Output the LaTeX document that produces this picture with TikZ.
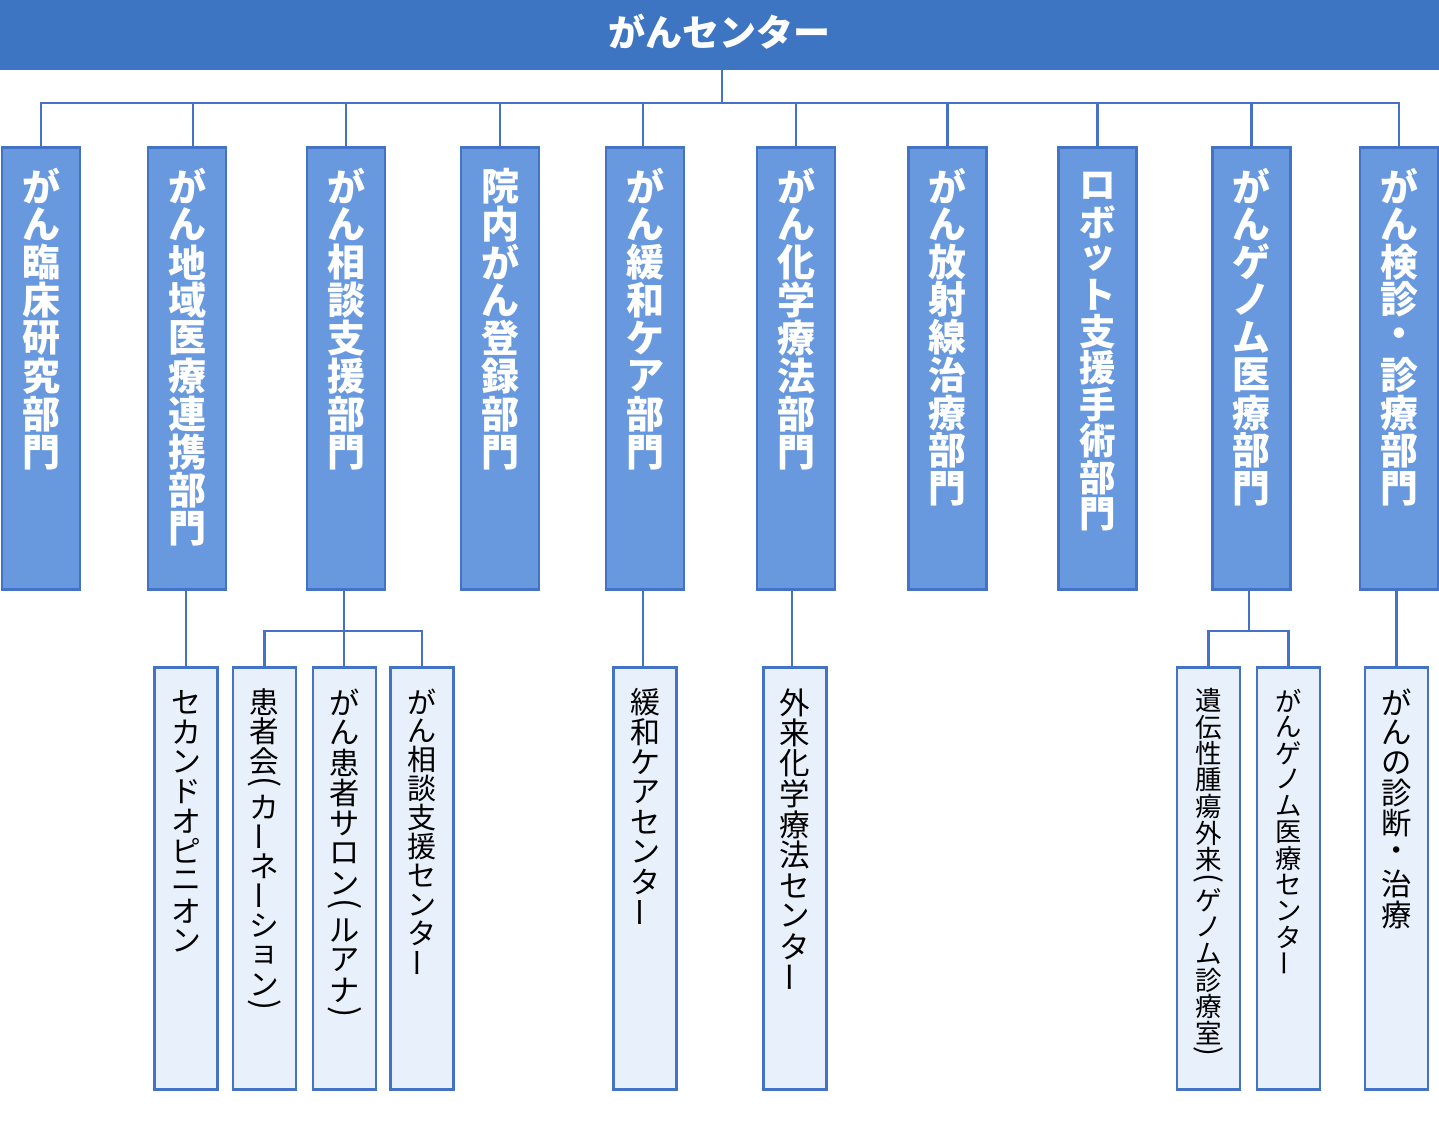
\documentclass[tikz,border=0pt]{standalone}
\usepackage{fontspec}
\usepackage{graphicx}
\setmainfont{Noto Sans CJK JP}
\definecolor{barblue}{HTML}{3E75C2}
\definecolor{deptfill}{HTML}{6899DE}
\definecolor{edgeblue}{HTML}{4472C4}
\definecolor{subfill}{HTML}{E8F0FB}

\newlength\vp
\newlength\vw
\def\vtEnd{\relax vtEnd}
\newcommand\vcell[2]{\hbox to \vw{\hss\vbox to #1\vp{\vss\hbox{#2}\vss}\hss}}
\def\vtOne#1{%
  \ifx ー#1\vcell{1}{\rotatebox[origin=c]{90}{ー}}%
  \else\ifx （#1\vcell{0.55}{\rotatebox[origin=c]{-90}{\fontsize{1.1\vp}{1.1\vp}\selectfont(}}%
  \else\ifx ）#1\vcell{0.55}{\rotatebox[origin=c]{-90}{\fontsize{1.1\vp}{1.1\vp}\selectfont)}}%
  \else\vcell{1}{#1}\fi\fi\fi}
\def\vtA#1{\ifx#1\vtEnd\else\vtOne#1\expandafter\vtA\fi}
\newcommand\vt[2]{\vbox to #1{\offinterlineskip\setlength\vw{1.3em}\vtA#2\vtEnd\vfil}}

\tikzset{
  dept/.style={draw=edgeblue, line width=2.5pt, fill=deptfill, minimum width=78pt,
    minimum height=442pt, inner xsep=0pt, inner ysep=20pt, anchor=north, text=white,
    font=\fontsize{#1}{#1}\selectfont\bfseries\setlength\vp{#1pt}},
  dept/.default=38,
  subbox/.style={draw=edgeblue, line width=2.5pt, fill=subfill, minimum width=63pt,
    minimum height=422pt, inner xsep=0pt, inner ysep=20pt, anchor=north, text=black,
    font=\fontsize{#1}{#1}\selectfont\setlength\vp{#1pt}},
  subbox/.default=30,
  conn/.style={draw=edgeblue, line width=2.5pt},
}

\begin{document}
\begin{tikzpicture}[x=1pt,y=-1pt]
\useasboundingbox (0,0) rectangle (1439,1127);

% top bar
\node[fill=barblue, minimum width=1439pt, minimum height=70pt, inner sep=0pt, anchor=north west] (ctr) at (0,0) {};
\node[text=white, font=\fontsize{37}{37}\selectfont\bfseries] (title) at (719.5,32) {がんセンター};

% departments
\node[dept] (d1) at (41,146) {\vt{402pt}{がん臨床研究部門}};
\node[dept] (d2) at (187,146) {\vt{402pt}{がん地域医療連携部門}};
\node[dept] (d3) at (346,146) {\vt{402pt}{がん相談支援部門}};
\node[dept] (d4) at (500,146) {\vt{402pt}{院内がん登録部門}};
\node[dept] (d5) at (645,146) {\vt{402pt}{がん緩和ケア部門}};
\node[dept] (d6) at (796,146) {\vt{402pt}{がん化学療法部門}};
\node[dept=37.8] (d7) at (947.5,146) {\vt{402pt}{がん放射線治療部門}};
\node[dept=36.5] (d8) at (1097.5,146) {\vt{402pt}{ロボット支援手術部門}};
\node[dept=37.8] (d9) at (1251.5,146) {\vt{402pt}{がんゲノム医療部門}};
\node[dept=37.8] (d10) at (1399,146) {\vt{402pt}{がん検診・診療部門}};

% sub units
\node[subbox=29.8] (s1) at (186,666) {\vt{382pt}{セカンドオピニオン}};
\node[subbox=29.6] (s2) at (264.5,666) {\vt{382pt}{患者会（カーネーション）}};
\node[subbox=30.2] (s3) at (344.5,666) {\vt{382pt}{がん患者サロン（ルアナ）}};
\node[subbox=29] (s4) at (422,666) {\vt{382pt}{がん相談支援センター}};
\node[subbox=30] (s5) at (645,666) {\vt{382pt}{緩和ケアセンター}};
\node[subbox=30.5] (s6) at (795,666) {\vt{382pt}{外来化学療法センター}};
\node[subbox=26.5] (s7) at (1208.5,666) {\vt{382pt}{遺伝性腫瘍外来（ゲノム診療室）}};
\node[subbox=26.3] (s8) at (1288.5,666) {\vt{382pt}{がんゲノム医療センター}};
\node[subbox=30.3] (s9) at (1396.5,666) {\vt{382pt}{がんの診断・治療}};

% upper connectors
\coordinate (bus) at (722,103);
\draw[conn] (ctr.south -| bus) -- (bus);
\draw[conn] (d1.north) -- (d1.north |- bus) -- (d10.north |- bus) -- (d10.north);
\foreach \n in {3,4,6,7,8,9} \draw[conn] (d\n.north) -- (d\n.north |- bus);
\draw[conn] ([xshift=6pt]d2.north) -- ([xshift=6pt]d2.north |- bus);
\draw[conn] ([xshift=-2pt]d5.north) -- ([xshift=-2pt]d5.north |- bus);

% lower connectors
\draw[conn] (s1.north) -- (s1.north |- d2.south);
\coordinate (b3) at (344,631);
\draw[conn] (s2.north) -- (s2.north |- b3) -- (s4.north |- b3) -- (s4.north);
\draw[conn] (d3.south -| b3) -- (b3 |- s3.north);
\draw[conn] ([xshift=-2pt]s5.north) -- ([xshift=-2pt]s5.north |- d5.south);
\draw[conn] ([xshift=-3pt]s6.north) -- ([xshift=-3pt]s6.north |- d6.south);
\coordinate (b9) at (1249,631);
\draw[conn] (s7.north) -- (s7.north |- b9) -- (s8.north |- b9) -- (s8.north);
\draw[conn] (d9.south -| b9) -- (b9);
\draw[conn] (s9.north) -- (s9.north |- d10.south);
\end{tikzpicture}
\end{document}
